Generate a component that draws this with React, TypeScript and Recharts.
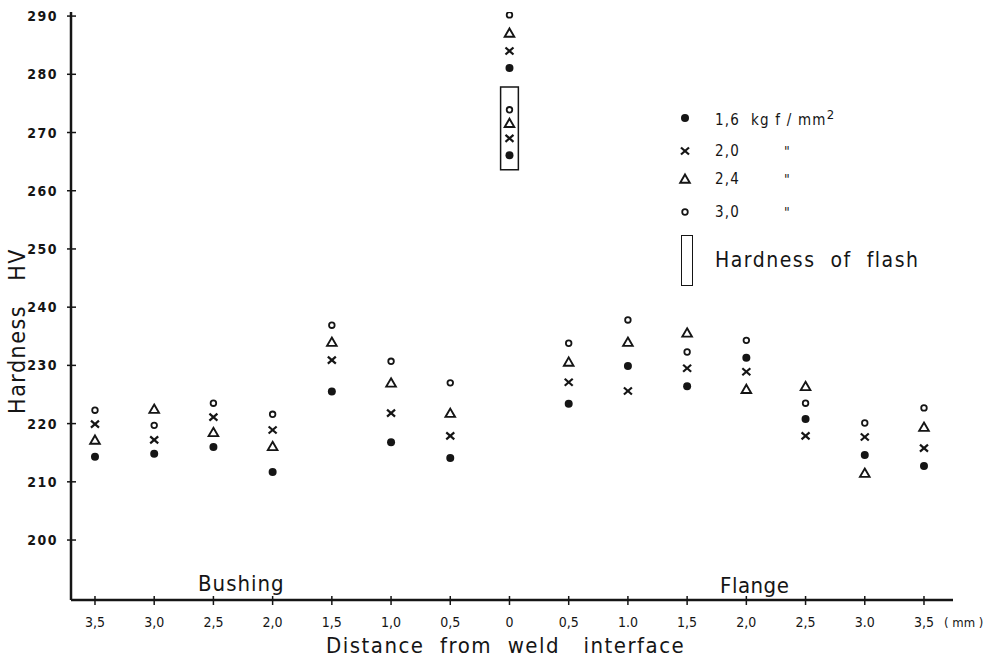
import { FC } from 'react';
import { ScatterChart, Scatter, XAxis, YAxis, ReferenceArea } from 'recharts';

// distance from weld interface, bushing side -> flange side
const positions = ['3,5', '3,0', '2,5', '2,0', '1,5', '1,0', '0,5', '0', '0,5', '1.0', '1,5', '2,0', '2,5', '3.0', '3,5'];
const hvTicks = [200, 210, 220, 230, 240, 250, 260, 270, 280, 290];

// hardness HV per load (kgf/mm2)
const load16 = [214.3, 214.8, 216.0, 211.7, 225.5, 216.8, 214.1, 281.1, 223.4, 229.9, 226.4, 231.3, 220.8, 214.6, 212.7];
const load20 = [219.9, 217.2, 221.1, 218.9, 230.9, 221.8, 217.9, 284.0, 227.1, 225.6, 229.5, 228.9, 217.9, 217.7, 215.8];
const load24 = [217.2, 222.5, 218.5, 216.1, 234.0, 227.0, 221.8, 287.1, 230.6, 234.0, 235.6, 225.9, 226.4, 211.5, 219.4];
const load30 = [222.3, 219.7, 223.5, 221.6, 236.9, 230.7, 227.0, 290.2, 233.8, 237.8, 232.3, 234.3, 223.5, 220.1, 222.7];

// hardness of flash (at the interface)
const flash16 = 266.1;
const flash20 = 269.0;
const flash24 = 271.6;
const flash30 = 273.9;
const flashIndex = 7;
const flashRange = [263.6, 277.8];

const FONT = '"DejaVu Sans Condensed", "DejaVu Sans", sans-serif';
const INK = '#151515';

const toPoints = (vals: number[], flash: number) => [
  ...vals.map((v, i) => ({ x: i, y: v })),
  { x: flashIndex, y: flash },
];

const DotFilled = ({ cx, cy }: any) => <circle cx={cx} cy={cy} r={4} fill={INK} />;
const DotOpen = ({ cx, cy }: any) => (
  <circle cx={cx} cy={cy} r={2.8} fill="#fff" stroke={INK} strokeWidth={1.8} />
);
const Cross = ({ cx, cy }: any) => (
  <g stroke={INK} strokeWidth={2.2}>
    <line x1={cx - 4} y1={cy - 3.5} x2={cx + 4} y2={cy + 3.5} />
    <line x1={cx - 4} y1={cy + 3.5} x2={cx + 4} y2={cy - 3.5} />
  </g>
);
const Tri = ({ cx, cy }: any) => (
  <path
    d={`M${cx},${cy - 4.5} L${cx + 4.8},${cy + 3.8} L${cx - 4.8},${cy + 3.8} Z`}
    fill="#fff"
    stroke={INK}
    strokeWidth={1.9}
    strokeLinejoin="miter"
  />
);

const XTick = ({ x, y, payload, index }: any) => (
  <g>
    <line x1={x} x2={x} y1={y - 12} y2={y - 3} stroke={INK} strokeWidth={1.5} />
    <text x={x} y={y + 14} textAnchor="middle" dominantBaseline="central" fontSize={14} fill={INK} fontFamily={FONT}>
      {positions[payload.value]}
    </text>
    {index === positions.length - 1 && (
      <text x={x + 20} y={y + 14} dominantBaseline="central" fontSize={13} fill={INK} fontFamily={FONT} style={{ whiteSpace: 'pre' }}>
        {'( mm )'}
      </text>
    )}
  </g>
);

const YTick = ({ x, y, payload }: any) => (
  <g>
    <line x1={x + 4} x2={x + 13} y1={y} y2={y} stroke={INK} strokeWidth={1.5} />
    <text x={x - 5} y={y} textAnchor="end" dominantBaseline="central" fontSize={14} fontWeight="bold" letterSpacing={1.5} fill={INK} fontFamily={FONT}>
      {payload.value}
    </text>
  </g>
);

const legendRows = [
  { Shape: DotFilled, label: '1,6  kg f / mm', sup: true, top: 118 },
  { Shape: Cross, label: '2,0', top: 151 },
  { Shape: Tri, label: '2,4', top: 179 },
  { Shape: DotOpen, label: '3,0', top: 212 },
];

const abs = (left: number, top: number, extra: any = {}) => ({
  position: 'absolute' as const,
  left,
  top,
  transform: 'translate(0, -50%)',
  whiteSpace: 'pre' as const,
  color: INK,
  fontFamily: FONT,
  ...extra,
});

const App: FC = () => {
  return (
    <div style={{ position: 'absolute', left: 0, top: 0, width: 993, height: 663, background: '#fff', fontFamily: FONT }}>
      <ScatterChart width={993} height={663} margin={{ top: 12, right: 40, bottom: 0, left: 0 }}>
        <XAxis
          type="number"
          dataKey="x"
          domain={[-0.405, 14.49]}
          ticks={positions.map((_, i) => i)}
          interval={0}
          allowDataOverflow
          height={63}
          axisLine={{ stroke: INK, strokeWidth: 2.5 }}
          tickLine={false}
          tick={<XTick />}
        />
        <YAxis
          type="number"
          dataKey="y"
          domain={[189.7, 290.7]}
          ticks={hvTicks}
          interval={0}
          allowDataOverflow
          width={71}
          axisLine={{ stroke: INK, strokeWidth: 2.5 }}
          tickLine={false}
          tick={<YTick />}
        />
        <ReferenceArea
          x1={flashIndex - 0.15}
          x2={flashIndex + 0.15}
          y1={flashRange[0]}
          y2={flashRange[1]}
          fill="none"
          stroke={INK}
          strokeWidth={1.5}
          ifOverflow="visible"
        />
        <Scatter name="1,6" data={toPoints(load16, flash16)} shape={DotFilled} isAnimationActive={false} />
        <Scatter name="2,0" data={toPoints(load20, flash20)} shape={Cross} isAnimationActive={false} />
        <Scatter name="2,4" data={toPoints(load24, flash24)} shape={Tri} isAnimationActive={false} />
        <Scatter name="3,0" data={toPoints(load30, flash30)} shape={DotOpen} isAnimationActive={false} />
      </ScatterChart>

      {/* legend */}
      {legendRows.map(({ Shape, label, sup, top }, i) => (
        <div key={i}>
          <svg width={14} height={14} style={{ position: 'absolute', left: 678, top: top - 7 }}>
            <Shape cx={7} cy={7} />
          </svg>
          <div style={abs(715, top, { fontSize: 15, letterSpacing: 1.2 })}>
            {label}
            {sup && <sup style={{ fontSize: 13 }}>2</sup>}
          </div>
          {!sup && <div style={abs(784, top, { fontSize: 14 })}>"</div>}
        </div>
      ))}
      <div style={{ position: 'absolute', left: 681, top: 235, width: 10, height: 49, border: `1.5px solid ${INK}` }} />
      <div style={abs(715, 260, { fontSize: 21, letterSpacing: 1.5 })}>Hardness  of  flash</div>

      {/* region labels */}
      <div style={abs(198, 583, { fontSize: 22, letterSpacing: 1 })}>Bushing</div>
      <div style={abs(720, 585, { fontSize: 22, letterSpacing: 0.5 })}>Flange</div>

      {/* axis titles */}
      <div style={abs(326, 645, { fontSize: 22, letterSpacing: 1.5 })}>Distance  from  weld   interface</div>
      <div
        style={{
          position: 'absolute',
          left: 17,
          top: 331,
          transform: 'translate(-50%, -50%) rotate(-90deg)',
          whiteSpace: 'pre',
          fontSize: 23,
          letterSpacing: 1.5,
          color: INK,
          fontFamily: FONT,
        }}
      >
        Hardness   HV
      </div>
    </div>
  );
};

export default App;
